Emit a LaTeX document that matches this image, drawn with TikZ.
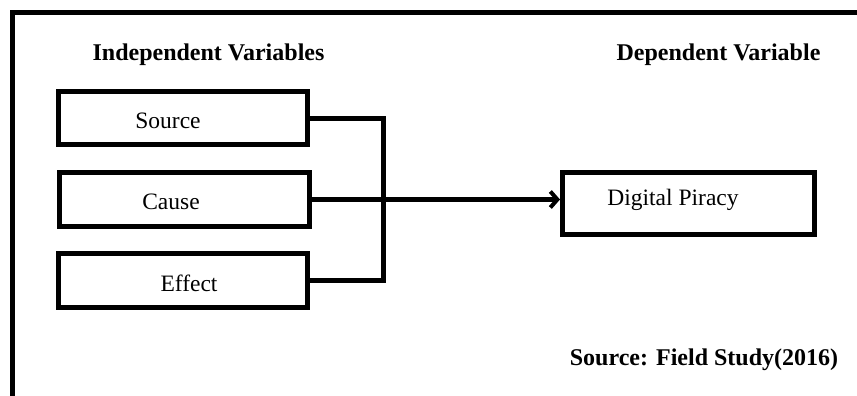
\documentclass[tikz,border=0pt]{standalone}
\usepackage{fontspec}
\setmainfont{Liberation Serif}
\usetikzlibrary{positioning,calc,arrows.meta}

\tikzset{
  varbox/.style={draw, line width=5pt, inner sep=0pt, minimum width=249pt, minimum height=53pt},
  link/.style={line width=5pt},
  heading/.style={font=\fontsize{24}{28}\selectfont\bfseries, anchor=base}
}

\begin{document}
\begin{tikzpicture}[x=1pt, y=-1pt, every label/.style={font=\fontsize{23.5}{27}\selectfont, anchor=base}]

\clip (0,0) rectangle (857,396);
\fill[white] (0,0) rectangle (857,396);

% frame (runs past the page on the right and below)
\draw[line width=5pt] (12.5,440) -- (12.5,12.5) -- (900,12.5);

\node[heading] (indep) at (208.5,60) {Independent Variables};
\node[heading] (dep) at (718.5,60) {Dependent Variable};

\node[varbox, label={[xshift=-15pt, yshift=-3pt]center:Source}] (src) at (183,118) {};
\node[varbox, minimum width=250pt, minimum height=54pt,
      label={[xshift=-13.5pt, yshift=-2.5pt]center:Cause}] (cause) at (184.5,199.5) {};
\node[varbox, minimum height=54pt,
      label={[xshift=6pt, yshift=-2.5pt]center:Effect}] (eff) at (183,280.5) {};

\node[varbox, minimum width=252pt, minimum height=62pt,
      label={[xshift=-15.5pt, yshift=3.5pt]center:Digital Piracy}] (dp) at (688.5,203.5) {};

\draw[link] (src.east) -| ($(cause.east)+(71.5,0)$) |- (eff.east);
\draw[link, -{Straight Barb[length=7pt, width=16pt, line width=4pt]}] (cause.east) -- (cause.east -| dp.west);

\node[heading] (srcnote) at (704,365) {Source: Field Study(2016)};

\end{tikzpicture}
\end{document}
